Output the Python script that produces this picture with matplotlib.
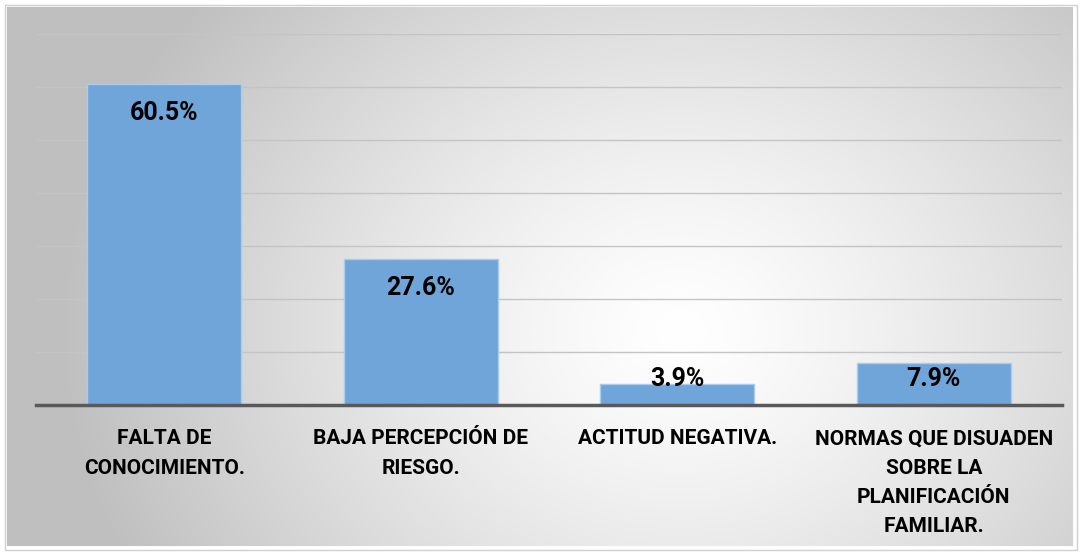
import numpy as np
import matplotlib.pyplot as plt
from matplotlib.patches import Rectangle

# datos del grafico
categorias = ["FALTA DE\nCONOCIMIENTO.",
              "BAJA PERCEPCIÓN DE\nRIESGO.",
              "ACTITUD NEGATIVA.",
              "NORMAS QUE DISUADEN\nSOBRE LA\nPLANIFICACIÓN\nFAMILIAR."]
porcentajes = [60.5, 27.6, 3.9, 7.9]
etiquetas = ["60.5%", "27.6%", "3.9%", "7.9%"]

plt.rcParams['font.family'] = ['Roboto', 'DejaVu Sans']
PESO = 'bold'

W, H = 1080, 553
fig = plt.figure(figsize=(W / 100, H / 100), dpi=100)

# fondo con degradado radial (blanco al centro, gris en los bordes)
bg = fig.add_axes([0, 0, 1, 1])
yy, xx = np.mgrid[0:H, 0:W]
cx, cy = 680, 330
r = np.sqrt(((xx - cx) / 620.0) ** 2 + ((yy - cy) / 520.0) ** 2)
g = 1.0 - 0.25 * np.clip(r, 0, 1) ** 1.3
img = np.dstack([g, g, g])
bg.imshow(img, extent=[0, W, H, 0], aspect='auto')
bg.set_xlim(0, W)
bg.set_ylim(H, 0)
bg.axis('off')
# marco exterior
fig.patches.append(Rectangle((0, 0), 1, 1, transform=fig.transFigure,
                             fill=False, edgecolor='white', linewidth=10))
fig.patches.append(Rectangle((5 / W, 3 / H), 1072 / W, 545 / H, transform=fig.transFigure,
                             fill=False, edgecolor='#d0d0d0', linewidth=1))

# area de trazado
x0, x1 = 36, 1062
y_top, y_base = 34, 405
ax = fig.add_axes([x0 / W, 1 - y_base / H, (x1 - x0) / W, (y_base - y_top) / H])
ax.patch.set_alpha(0)

pos = np.arange(len(categorias))
ax.bar(pos, porcentajes, width=0.6, color='#6fa5d8', edgecolor='#a9cbec',
       linewidth=1, zorder=3)
ax.set_xlim(-0.5, len(categorias) - 0.5)
ax.set_ylim(0, 70)
ax.set_yticks(np.arange(10, 71, 10))
ax.yaxis.grid(True, color='#c4c4c4', linewidth=1, zorder=0)
ax.tick_params(axis='y', left=False, labelleft=False)
ax.tick_params(axis='x', bottom=False, pad=14)
ax.set_xticks(pos)
ax.set_xticklabels(categorias, fontsize=15, fontweight=PESO,
                   linespacing=1.68, va='top')
for s in ['top', 'right', 'left']:
    ax.spines[s].set_visible(False)
ax.spines['bottom'].set_color('#595959')
ax.spines['bottom'].set_linewidth(2.5)
ax.spines['bottom'].set_zorder(4)

# etiquetas dentro del extremo de la barra (sin bajar de la base)
for p, v, t in zip(pos, porcentajes, etiquetas):
    ax.text(p, max(v - 5.5, 5.0), t, ha='center', va='center',
            fontsize=18, fontweight=PESO, color='black', zorder=5)

fig.savefig('out.png', dpi=100)
